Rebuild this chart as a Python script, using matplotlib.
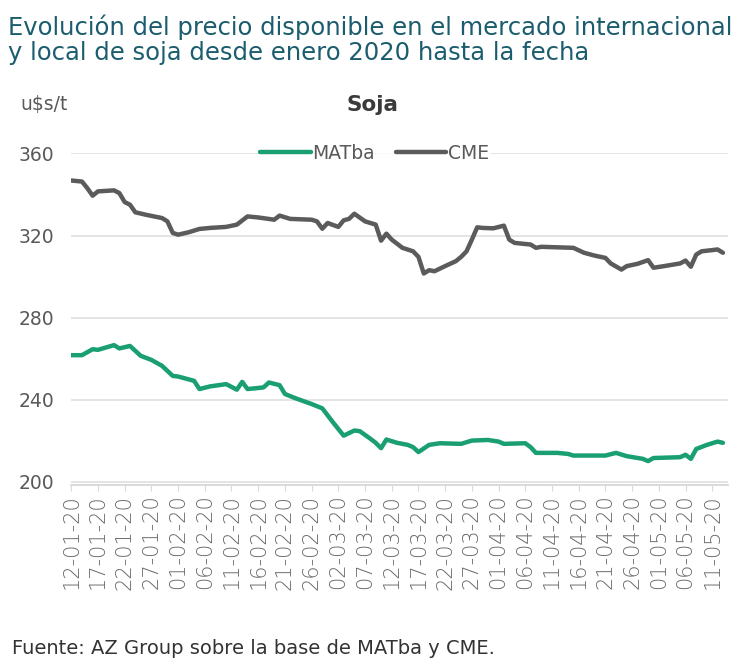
import pandas as pd
import matplotlib
matplotlib.use("Agg")
import matplotlib.pyplot as plt
import matplotlib.dates as mdates

# CME daily price (u$s/t)
cme_dates = ["2020-01-12", "2020-01-14", "2020-01-15", "2020-01-16", "2020-01-17",
             "2020-01-20", "2020-01-21", "2020-01-22", "2020-01-23", "2020-01-24",
             "2020-01-26", "2020-01-29", "2020-01-30", "2020-01-31", "2020-02-01",
             "2020-02-03", "2020-02-05", "2020-02-07", "2020-02-10", "2020-02-12",
             "2020-02-14", "2020-02-16", "2020-02-19", "2020-02-20", "2020-02-22",
             "2020-02-26", "2020-02-27", "2020-02-28", "2020-02-29", "2020-03-02",
             "2020-03-03", "2020-03-04", "2020-03-05", "2020-03-07", "2020-03-09",
             "2020-03-10", "2020-03-11", "2020-03-12", "2020-03-14", "2020-03-16",
             "2020-03-17", "2020-03-18", "2020-03-19", "2020-03-20", "2020-03-22",
             "2020-03-24", "2020-03-25", "2020-03-26", "2020-03-27", "2020-03-28",
             "2020-03-29", "2020-03-31", "2020-04-02", "2020-04-03", "2020-04-04",
             "2020-04-07", "2020-04-08", "2020-04-09", "2020-04-15", "2020-04-17",
             "2020-04-19", "2020-04-21", "2020-04-22", "2020-04-24", "2020-04-25",
             "2020-04-27", "2020-04-29", "2020-04-30", "2020-05-02", "2020-05-05",
             "2020-05-06", "2020-05-07", "2020-05-08", "2020-05-09", "2020-05-12",
             "2020-05-13"]
cme_values = [346.8, 346.3, 343.1, 339.4, 341.5,
              342.0, 340.7, 336.3, 335.0, 331.3,
              330.1, 328.5, 326.9, 321.3, 320.4,
              321.6, 323.2, 323.7, 324.2, 325.3,
              329.3, 328.8, 327.7, 329.7, 328.1,
              327.7, 326.9, 323.3, 326.1, 324.2,
              327.4, 328.1, 330.6, 326.9, 325.3,
              317.5, 320.9, 318.0, 314.0, 312.3,
              309.6, 301.5, 303.1, 302.6, 305.1,
              307.5, 309.6, 312.3, 318.0, 324.0,
              323.7, 323.5, 324.8, 318.0, 316.4,
              315.6, 314.0, 314.5, 314.0, 311.6,
              310.2, 309.1, 306.4, 303.4, 305.1,
              306.2, 308.0, 304.3, 305.1, 306.4,
              307.8, 304.8, 310.7, 312.3, 313.2,
              311.6]

# MATba daily price (u$s/t)
mat_dates = ["2020-01-12", "2020-01-14", "2020-01-16", "2020-01-17", "2020-01-20",
             "2020-01-21", "2020-01-23", "2020-01-24", "2020-01-25", "2020-01-27",
             "2020-01-29", "2020-01-31", "2020-02-01", "2020-02-04", "2020-02-05",
             "2020-02-07", "2020-02-10", "2020-02-12", "2020-02-13", "2020-02-14",
             "2020-02-17", "2020-02-18", "2020-02-20", "2020-02-21", "2020-02-23",
             "2020-02-26", "2020-02-28", "2020-03-01", "2020-03-03", "2020-03-05",
             "2020-03-06", "2020-03-08", "2020-03-09", "2020-03-10", "2020-03-11",
             "2020-03-13", "2020-03-15", "2020-03-16", "2020-03-17", "2020-03-19",
             "2020-03-21", "2020-03-25", "2020-03-27", "2020-03-30", "2020-04-01",
             "2020-04-02", "2020-04-06", "2020-04-07", "2020-04-08", "2020-04-12",
             "2020-04-14", "2020-04-15", "2020-04-21", "2020-04-23", "2020-04-25",
             "2020-04-28", "2020-04-29", "2020-04-30", "2020-05-05", "2020-05-06",
             "2020-05-07", "2020-05-08", "2020-05-10", "2020-05-12", "2020-05-13"]
mat_values = [261.7, 261.7, 264.6, 264.3, 266.6,
              265.0, 266.2, 263.8, 261.4, 259.4,
              256.5, 251.6, 251.3, 249.2, 245.2,
              246.5, 247.6, 244.9, 248.7, 245.2,
              246.0, 248.4, 247.1, 242.8, 240.7,
              237.9, 235.8, 229.0, 222.5, 225.0,
              224.7, 221.0, 219.0, 216.4, 220.6,
              219.0, 218.0, 216.9, 214.5, 218.0,
              218.8, 218.5, 220.1, 220.4, 219.6,
              218.5, 218.8, 216.9, 214.1, 214.1,
              213.6, 212.8, 212.8, 214.1, 212.5,
              211.2, 210.1, 211.6, 212.0, 213.2,
              211.2, 216.0, 218.0, 219.6, 219.0]

y_ticks = [200, 240, 280, 320, 360]

GREEN = "#1a9f73"
DARK = "#5b5b5b"
TEXT = "#595959"

plt.rcParams["font.family"] = ["DejaVu Sans"]

fig = plt.figure(figsize=(7.5, 6.67), dpi=100)
ax = fig.add_axes([0.095, 0.273, 0.876, 0.497])

ax.plot(pd.to_datetime(mat_dates), mat_values, color=GREEN, lw=3.2,
        solid_capstyle="round", solid_joinstyle="round", label="MATba", zorder=3)
ax.plot(pd.to_datetime(cme_dates), cme_values, color=DARK, lw=3.2,
        solid_capstyle="round", solid_joinstyle="round", label="CME", zorder=3)

ax.set_ylim(198.5, 360)
ax.set_yticks(y_ticks)
ax.set_xlim(pd.Timestamp("2020-01-12"), pd.Timestamp("2020-05-14"))

ticks = pd.date_range("2020-01-12", "2020-05-11", freq="5D")
ax.set_xticks(ticks)
ax.xaxis.set_major_formatter(mdates.DateFormatter("%d-%m-%y"))
ax.tick_params(axis="x", rotation=90, labelsize=15, colors="#6a6a6a", length=4,
               color="#d8d8d8", pad=3)
ax.tick_params(axis="y", labelsize=13.5, colors=TEXT, length=0, pad=12)
for lbl in ax.get_xticklabels():
    lbl.set_fontweight("light")

ax.grid(axis="y", color="#e2e2e2", lw=1.3)
ax.set_axisbelow(True)
for s in ["top", "right", "left"]:
    ax.spines[s].set_visible(False)
ax.spines["bottom"].set_color("#d8d8d8")
ax.spines["bottom"].set_linewidth(1.3)

leg = ax.legend(loc="center", bbox_to_anchor=(0.462, 1.0), ncol=2, frameon=True,
                fontsize=13.5, handlelength=2.7, handletextpad=0.1,
                columnspacing=1.1, borderpad=0.1, edgecolor="none")
for t in leg.get_texts():
    t.set_color(TEXT)

fig.text(0.011, 0.978,
         "Evolución del precio disponible en el mercado internacional\n"
         "y local de soja desde enero 2020 hasta la fecha",
         ha="left", va="top", fontsize=17.5, color="#1b5d6e", linespacing=1.05)
fig.text(0.027, 0.843, "u$s/t", fontsize=13.5, color=TEXT, ha="left", va="center")
fig.text(0.496, 0.843, "Soja", fontsize=15.5, color="#3a3a3a", ha="center",
         va="center", fontweight="bold")
fig.text(0.016, 0.028, "Fuente: AZ Group sobre la base de MATba y CME.",
         fontsize=14, color="#333333", ha="left", va="center")

fig.savefig("out.png", dpi=100, facecolor="white")
